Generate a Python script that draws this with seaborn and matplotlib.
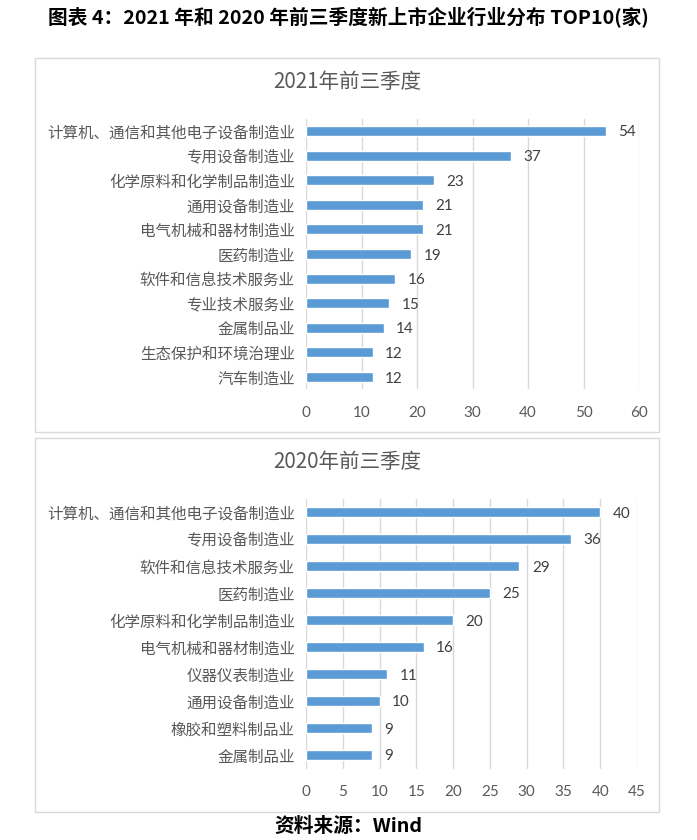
import matplotlib
matplotlib.use("Agg")
import matplotlib.pyplot as plt
import seaborn as sns
import pandas as pd
from matplotlib.patches import Rectangle

inds_2021 = ['计算机、通信和其他电子设备制造业', '专用设备制造业', '化学原料和化学制品制造业',
             '通用设备制造业', '电气机械和器材制造业', '医药制造业', '软件和信息技术服务业',
             '专业技术服务业', '金属制品业', '生态保护和环境治理业', '汽车制造业']
vals_2021 = [54, 37, 23, 21, 21, 19, 16, 15, 14, 12, 12]

inds_2020 = ['计算机、通信和其他电子设备制造业', '专用设备制造业', '软件和信息技术服务业',
             '医药制造业', '化学原料和化学制品制造业', '电气机械和器材制造业', '仪器仪表制造业',
             '通用设备制造业', '橡胶和塑料制品业', '金属制品业']
vals_2020 = [40, 36, 29, 25, 20, 16, 11, 10, 9, 9]

sns.set_style("white")
plt.rcParams['font.family'] = ['Noto Sans CJK SC', 'DejaVu Sans']

BLUE = '#5B9BD5'
GRAY = '#595959'
GRID = '#D9D9D9'

fig = plt.figure(figsize=(6.97, 8.4), dpi=100)

# panel frames
for y0, y1 in [(58, 432), (438, 812)]:
    fig.patches.append(Rectangle((35 / 697, 1 - y1 / 840), 624 / 697, (y1 - y0) / 840,
                                 transform=fig.transFigure, fill=False,
                                 edgecolor=GRID, linewidth=1))

fig.text(0.5, 1 - 18 / 840, '图表 4：2021 年和 2020 年前三季度新上市企业行业分布 TOP10(家)',
         ha='center', va='center', fontsize=14.2, fontweight='bold', color='black')
fig.text(0.5, 1 - 826 / 840, '资料来源：Wind', ha='center', va='center',
         fontsize=14.2, fontweight='bold', color='black')


def draw(rect, names, vals, xmax, step, title, title_y):
    ax = fig.add_axes(rect)
    df = pd.DataFrame({'ind': names, 'n': vals})
    sns.barplot(data=df, x='n', y='ind', orient='h', color=BLUE, width=0.4,
                saturation=1, ax=ax)
    ax.set_xlim(0, xmax)
    ax.set_xticks(range(0, xmax + 1, step))
    ax.set_xlabel('')
    ax.set_ylabel('')
    ax.grid(axis='x', color=GRID, linewidth=1)
    ax.set_axisbelow(True)
    for s in ax.spines.values():
        s.set_visible(False)
    ax.tick_params(axis='both', length=0, colors=GRAY)
    ax.tick_params(axis='x', pad=12)
    ax.tick_params(axis='y', pad=8, labelsize=11.2)
    for t in ax.get_xticklabels():
        t.set_family(['Lato', 'DejaVu Sans'])
        t.set_fontsize(11)
    labels = ax.bar_label(ax.containers[0], padding=9, color='#404040')
    for t in labels:
        t.set_family(['Lato', 'DejaVu Sans'])
        t.set_fontsize(11)
        t.set_va('center_baseline')
    fig.text(347 / 697, 1 - title_y / 840, title, ha='center', va='center',
             fontsize=14.8, color=GRAY)
    return ax


draw([306 / 697, 1 - 389.3 / 840, 333 / 697, 270.6 / 840],
     inds_2021, vals_2021, 60, 10, '2021年前三季度', 82)
draw([306 / 697, 1 - 768.5 / 840, 331 / 697, 270 / 840],
     inds_2020, vals_2020, 45, 5, '2020年前三季度', 462)

fig.savefig('out.png', dpi=100)
